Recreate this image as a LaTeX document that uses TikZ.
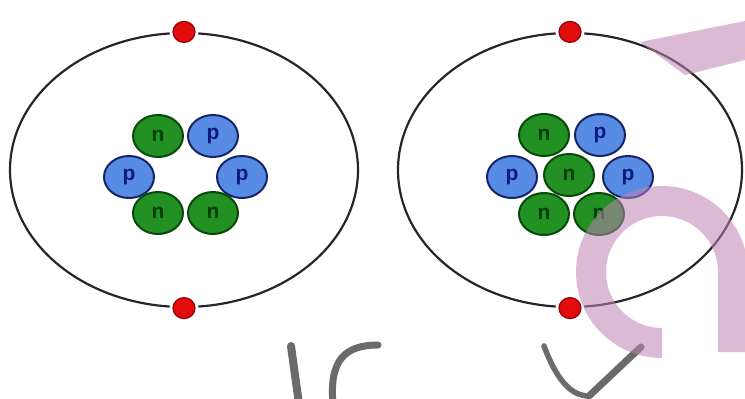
\documentclass[tikz,border=0pt]{standalone}
\usepackage{fontspec}
\setsansfont{Liberation Sans}
\usetikzlibrary{shapes.geometric,positioning}
\definecolor{NeutronGreen}{RGB}{34,144,34}
\definecolor{NeutronEdge}{RGB}{10,72,10}
\definecolor{NeutronText}{RGB}{6,62,6}
\definecolor{ProtonBlue}{RGB}{88,140,228}
\definecolor{ProtonEdge}{RGB}{20,36,105}
\definecolor{ProtonText}{RGB}{12,26,120}
\definecolor{ElectronRed}{RGB}{225,12,12}
\definecolor{ElectronEdge}{RGB}{150,0,0}
\definecolor{WaterPink}{RGB}{190,130,180}
\tikzstyle{orbit} = [draw=black!85,line width=2.2pt,shape=ellipse,inner sep=0pt]
\tikzstyle{electron} = [fill=ElectronRed,draw=ElectronEdge,line width=1.2pt,shape=ellipse,inner sep=0pt,minimum width=22pt,minimum height=21pt,preaction={draw=white,line width=7pt}]
\tikzstyle{nucleon} = [shape=ellipse,inner sep=0pt,minimum width=50pt,minimum height=42pt,line width=2pt,font=\sffamily\bfseries\fontsize{21}{21}\selectfont]
\tikzstyle{neutron} = [nucleon,fill=NeutronGreen,draw=NeutronEdge,text=NeutronText]
\tikzstyle{proton} = [nucleon,fill=ProtonBlue,draw=ProtonEdge,text=ProtonText]
\tikzstyle{watermark} = [fill=WaterPink,fill opacity=.55,draw=none]
\tikzstyle{stroke} = [draw=black!58,line cap=round,line join=round,line width=7pt]

\begin{document}
\begin{tikzpicture}[x=1pt,y=-1pt]
			\useasboundingbox (0,0) rectangle (745,399);
			\fill[white] (0,0) rectangle (745,399);
			
			% first atom: ring of six
			\node[orbit,minimum width=348pt,minimum height=274pt] (o1) at (184,170) {};
			\node[electron] (e1) at (o1.north) {};
			\node[electron] (e2) at (o1.south) {};
			\node[neutron] (n1) at (158,136) {n};
			\node[proton,right of=n1,node distance=55pt] (p1) {p};
			\node[proton] (p2) at (129,177) {p};
			\node[proton,right of=p2,node distance=113pt] (p3) {p};
			\node[neutron,below of=n1,node distance=77pt] (n2) {n};
			\node[neutron,right of=n2,node distance=55pt] (n3) {n};
			
			% second atom: filled nucleus
			\node[orbit,minimum width=344pt,minimum height=274pt] (o2) at (570,170) {};
			\node[electron] (e3) at (o2.north) {};
			\node[electron] (e4) at (o2.south) {};
			\node[neutron] (n4) at (544,135) {n};
			\node[proton,right of=n4,node distance=56pt] (p4) {p};
			\node[neutron,below of=n4,node distance=79pt] (n5) {n};
			\node[neutron,right of=n5,node distance=55pt] (n6) {n};
			\node[proton] (p5) at (512,177) {p};
			\node[proton,right of=p5,node distance=116pt] (p6) {p};
			\node[neutron] (n7) at (569,175) {n};
			
			% grey strokes along the bottom
			\draw[stroke,line width=8pt] (291,346) -- (299,404);
			\draw[stroke] (333,404) .. controls (329,360) and (345,345) .. (378,345);
			\draw[stroke,line width=5.5pt] (544,346) .. controls (556,378) and (570,396) .. (589,396);
			\draw[stroke] (589,396) -- (641,347);
			
			% pink shapes on top
			\fill[watermark] (640,42) -- (745,21) -- (745,60) -- (685,75) -- cycle;
			\fill[watermark] (662,358) arc[start angle=90,end angle=360,radius=86] -- (748,352) -- (718,352) -- (718,272) arc[start angle=360,end angle=90,radius=56] -- cycle;
			
			\end{tikzpicture}
\end{document}
